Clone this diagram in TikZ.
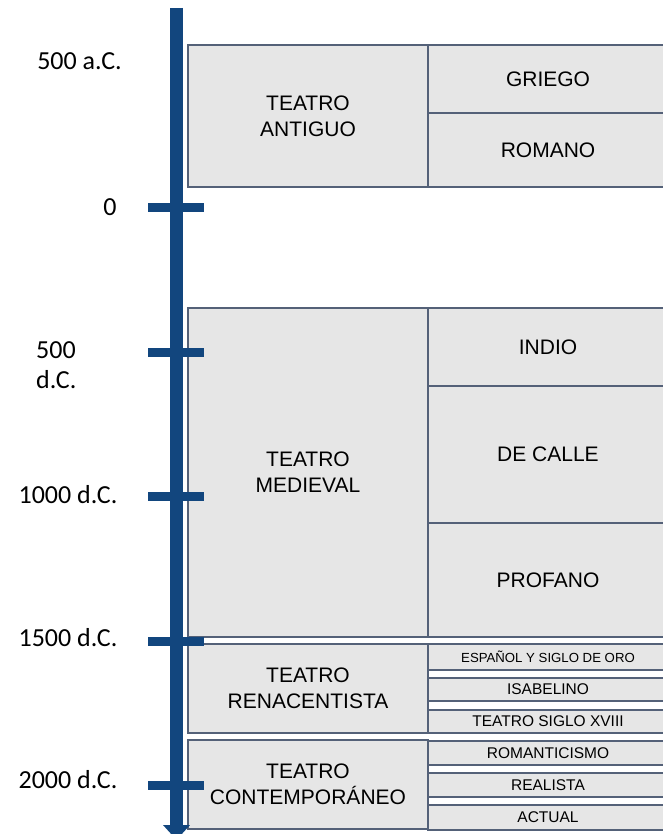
\documentclass[tikz,border=0pt]{standalone}
\usepackage{fontspec}
\setmainfont{Liberation Sans}
\newfontfamily\labfont{Carlito}
\usetikzlibrary{arrows.meta}
\definecolor{axisblue}{RGB}{18,70,126}
\definecolor{boxfill}{RGB}{230,230,230}
\definecolor{boxline}{RGB}{84,97,120}
\tikzset{
  cell/.style={draw=boxline, fill=boxfill, line width=1.5pt, inner sep=0pt, outer sep=0pt, align=center, text=black},
  bigtext/.style={font=\fontsize{21}{26}\selectfont},
  smalltext/.style={font=\fontsize{15.5}{18}\selectfont},
  tinytext/.style={font=\fontsize{13.2}{16}\selectfont},
  datelabel/.style={font=\labfont\fontsize{26}{30}\selectfont, inner sep=0pt, text=black},
  axisline/.style={draw=axisblue, line width=13pt, -{Triangle[width=26pt,length=15pt]}},
  tickline/.style={draw=axisblue, line width=9pt}
}
\begin{document}
\begin{tikzpicture}[x=1pt,y=-1pt]
\useasboundingbox (0,0) rectangle (662,834);

% Teatro antiguo
\node[cell,bigtext,minimum width=240pt,minimum height=142pt,anchor=north west] (antiguo) at (188,45) {TEATRO\\ANTIGUO};
\node[cell,bigtext,minimum width=240pt,minimum height=68pt,anchor=north west] (griego) at (428,45) {GRIEGO};
\node[cell,bigtext,minimum width=240pt,minimum height=74pt,anchor=north west] (romano) at (428,113) {ROMANO};

% Teatro medieval
\node[cell,bigtext,minimum width=240pt,minimum height=329pt,anchor=north west] (medieval) at (188,308) {TEATRO\\MEDIEVAL};
\node[cell,bigtext,minimum width=240pt,minimum height=78pt,anchor=north west] (indio) at (428,308) {INDIO};
\node[cell,bigtext,minimum width=240pt,minimum height=137pt,anchor=north west] (calle) at (428,386) {DE CALLE};
\node[cell,bigtext,minimum width=240pt,minimum height=114pt,anchor=north west] (profano) at (428,523) {PROFANO};

% Teatro renacentista
\node[cell,bigtext,minimum width=240pt,minimum height=89pt,anchor=north west] (renac) at (188,644) {TEATRO\\RENACENTISTA};
\node[cell,tinytext,minimum width=240pt,minimum height=26pt,anchor=north west] (espanol) at (428,644) {ESPAÑOL Y SIGLO DE ORO};
\node[cell,smalltext,minimum width=240pt,minimum height=23pt,anchor=north west] (isabelino) at (428,678) {ISABELINO};
\node[cell,smalltext,minimum width=240pt,minimum height=23pt,anchor=north west] (xviii) at (428,710) {TEATRO SIGLO XVIII};

% Teatro contemporaneo
\node[cell,bigtext,minimum width=240pt,minimum height=89pt,anchor=north west] (contemp) at (188,740) {TEATRO\\CONTEMPORÁNEO};
\node[cell,smalltext,minimum width=240pt,minimum height=24pt,anchor=north west] (romant) at (428,741) {ROMANTICISMO};
\node[cell,smalltext,minimum width=240pt,minimum height=24pt,anchor=north west] (realista) at (428,773) {REALISTA};
\node[cell,smalltext,minimum width=240pt,minimum height=25pt,anchor=north west] (actual) at (428,805) {ACTUAL};

% Axis
\coordinate (axtop) at (176.5,8);
\coordinate (axbot) at (176.5,840);
\draw[axisline] (axtop) -- (axbot);
\foreach \y/\n in {208/t0,352.5/t500,496/t1000,641/t1500,785/t2000}{
  \coordinate (\n a) at (148,\y);
  \coordinate (\n b) at (204,\y);
  \draw[tickline] (\n a) -- (\n b);
}

% Date labels
\node[datelabel] (l500ac) at (79.5,61) {500 a.C.};
\node[datelabel] (l0) at (110,207) {0};
\node[datelabel,anchor=west,align=left] (l500dc) at (36,365) {500\\d.C.};
\node[datelabel] (l1000) at (68,495) {1000 d.C.};
\node[datelabel] (l1500) at (68,638) {1500 d.C.};
\node[datelabel] (l2000) at (68,780) {2000 d.C.};
\end{tikzpicture}
\end{document}
